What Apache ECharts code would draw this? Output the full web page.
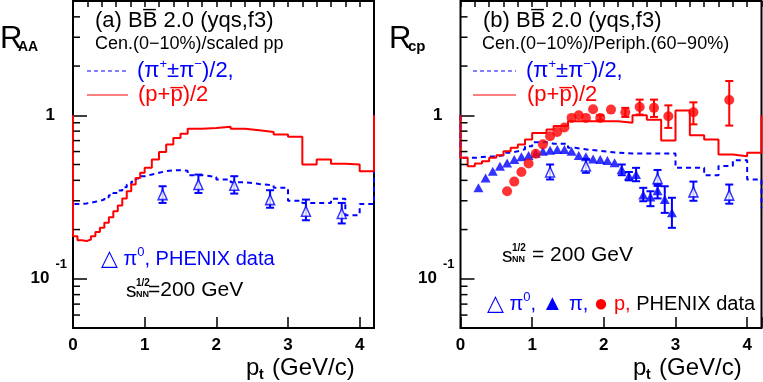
<!DOCTYPE html>
<html><head><meta charset="utf-8">
<script src="https://cdn.jsdelivr.net/npm/echarts@6/dist/echarts.min.js"></script>
<style>html,body{margin:0;padding:0;background:#fff}#c{width:763px;height:382px}</style>
</head><body><div id="c"></div>
<script>
// ---------------- data ----------------
const xTickLabels = [0, 1, 2, 3, 4];
const yMinorTicks = [0.06, 0.07, 0.08, 0.09, 0.2, 0.3, 0.4, 0.5, 0.6, 0.7, 0.8, 0.9, 2, 3, 4];

// panel (a): R_AA  histogram bin edges and contents
const aEdges = [0,0.0625,0.125,0.1875,0.25,0.3125,0.375,0.4375,0.5,0.5625,0.625,0.6875,0.75,0.8125,0.875,0.9375,1.0,
                1.1,1.2,1.3,1.4,1.5,1.6,1.8,2.0,2.2,2.4,2.6,2.8,3.0,3.2,3.4,3.6,3.8,4.0,4.2];
const aProton = [0.182,0.172,0.170,0.174,0.182,0.193,0.205,0.220,0.238,0.259,0.281,0.310,0.343,0.377,0.414,0.445,
                 0.477,0.536,0.597,0.662,0.727,0.77,
                 0.826,0.837,0.85,0.826,0.81,0.79,0.762,0.738,0.50,0.536,0.505,0.50,0.455];
const aPion   = [0.287,0.287,0.289,0.292,0.296,0.300,0.305,0.315,0.324,0.335,0.347,0.363,0.377,0.392,0.410,0.424,
                 0.434,0.445,0.455,0.461,0.461,0.458,
                 0.43,0.42,0.405,0.39,0.38,0.373,0.36,0.30,0.291,0.291,0.309,0.245,0.287];
const aOuter = { protonLeft: 1, protonRight: 1, pionLeft: 1, pionRight: 1 };
// PHENIX pi0 R_AA
const aPi0Pt  = [1.25, 1.75, 2.25, 2.75, 3.25, 3.75];
const aPi0Val = [0.327, 0.377, 0.373, 0.305, 0.259, 0.251];
const aPi0Lo  = [0.291, 0.335, 0.332, 0.272, 0.228, 0.218];
const aPi0Hi  = [0.368, 0.434, 0.424, 0.348, 0.305, 0.291];

// panel (b): R_cp
const bEdges = [0,0.1,0.2,0.3,0.4,0.5,0.6,0.7,0.8,0.9,1.0,1.1,1.2,1.3,1.4,1.5,1.6,
                1.8,2.0,2.2,2.4,2.6,2.8,3.0,3.2,3.4,3.6,3.8,4.0,4.2];
const bProton = [0.549,0.488,0.507,0.524,0.549,0.570,0.603,0.632,0.662,0.71,
                 0.78,0.78,0.818,0.86,0.86,0.92,
                 0.92,0.92,0.92,0.90,1.0,0.94,0.70,1.07,0.755,0.71,0.575,0.562,0.589];
const bPion   = [0.549,0.549,0.555,0.56,0.56,0.57,0.59,0.603,0.62,0.646,
                 0.684,0.684,0.67,0.67,0.67,0.632,
                 0.615,0.603,0.59,0.583,0.583,0.583,0.583,0.477,0.477,0.43,0.49,0.53,0.405];
const bOuter = { protonLeft: 1, protonRight: 1, pionLeft: 1, pionRight: 0.27 };
// PHENIX pi0 (open triangles)
const bPi0Pt  = [1.25, 1.75, 2.75, 3.25, 3.75];
const bPi0Val = [0.45, 0.49, 0.41, 0.34, 0.325];
const bPi0Lo  = [0.405, 0.445, 0.37, 0.30, 0.288];
const bPi0Hi  = [0.50, 0.54, 0.463, 0.393, 0.377];
// PHENIX charged pi (filled triangles)
const bPiPt  = [0.25,0.35,0.45,0.55,0.65,0.75,0.85,0.95,1.05,1.15,1.25,1.35,1.45,1.55,1.65,1.75,1.85,1.95,2.05,2.15,2.25,2.35,2.45,2.55,2.65,2.75,2.85,2.95];
const bPiVal = [0.36,0.414,0.455,0.488,0.51,0.536,0.557,0.567,0.586,0.603,0.611,0.617,0.617,0.603,0.567,0.557,0.541,0.536,0.529,0.512,0.466,0.425,0.434,0.325,0.316,0.345,0.305,0.253];
const bPiErrPt = [2.25, 2.35, 2.45, 2.55, 2.65, 2.75, 2.85, 2.95];
const bPiErrLo = [0.43, 0.40, 0.395, 0.298, 0.278, 0.31, 0.253, 0.205];
const bPiErrHi = [0.50, 0.45, 0.477, 0.36, 0.343, 0.38, 0.368, 0.313];
// PHENIX protons (filled circles)
const bPPt  = [0.65,0.75,0.85,0.95,1.05,1.15,1.25,1.35,1.45,1.55,1.65,1.75,1.85,1.95,2.1,2.3,2.5,2.7,2.9,3.25,3.75];
const bPVal = [0.343,0.393,0.45,0.507,0.582,0.664,0.744,0.79,0.841,0.964,1.0,0.964,1.09,0.964,1.083,1.043,1.125,1.11,0.986,1.043,1.24];
const bPErrPt = [1.95, 2.3, 2.5, 2.7, 2.9, 3.25, 3.75];
const bPErrLo = [0.93, 0.977, 1.01, 0.977, 0.837, 0.88, 0.865];
const bPErrHi = [1.0, 1.11, 1.247, 1.247, 1.15, 1.20, 1.62];

// ---------------- chart ----------------
const FONT = '"Liberation Sans", "DejaVu Sans", sans-serif';
const BLUE = '#0000ff', RED = '#ff0000';

function histPoints(edges, vals, left, right) {
  const pts = [[edges[0], left]];
  for (let i = 0; i < vals.length; i++) {
    pts.push([edges[i], vals[i]]);
    pts.push([edges[i + 1], vals[i]]);
  }
  pts.push([edges[edges.length - 1], right]);
  return pts;
}
function zip(a, b, c) { return a.map((v, i) => c ? [v, b[i], c[i]] : [v, b[i]]); }

function errSeries(g, data, color) {
  return {
    type: 'custom', xAxisIndex: 2 * g, yAxisIndex: g, z: 4, silent: true,
    data: data, encode: { x: 0, y: [1, 2] },
    renderItem: function (p, api) {
      const x = api.value(0), a = api.coord([x, api.value(1)]), b = api.coord([x, api.value(2)]);
      const w = 4, st = { stroke: color, lineWidth: 2 };
      return { type: 'group', children: [
        { type: 'line', shape: { x1: a[0], y1: a[1], x2: b[0], y2: b[1] }, style: st },
        { type: 'line', shape: { x1: a[0] - w, y1: a[1], x2: a[0] + w, y2: a[1] }, style: st },
        { type: 'line', shape: { x1: b[0] - w, y1: b[1], x2: b[0] + w, y2: b[1] }, style: st }
      ]};
    }
  };
}
function minorTickSeries(g) {
  return {
    type: 'custom', xAxisIndex: 2 * g, yAxisIndex: g, z: 6, silent: true,
    data: yMinorTicks.map(v => [0, v]),
    renderItem: function (p, api) {
      const c = api.coord([0, api.value(1)]);
      return { type: 'line', shape: { x1: c[0], y1: c[1], x2: c[0] + 7, y2: c[1] },
               style: { stroke: '#000', lineWidth: 1.5 } };
    }
  };
}
function histSeries(g, pts, color, dashed) {
  return {
    type: 'line', xAxisIndex: 2 * g, yAxisIndex: g, data: pts, showSymbol: false, symbol: 'none',
    clip: true, z: dashed ? 2 : 3, silent: true,
    lineStyle: { color: color, width: 2, type: dashed ? [5, 4] : 'solid' }
  };
}

function xAxes(g) {
  return [
    { type: 'value', gridIndex: g, min: 0, max: 4.2, interval: 1,
      axisLine: { show: false }, splitLine: { show: false },
      axisTick: { inside: true, length: 11, lineStyle: { color: '#000', width: 1.5 } },
      axisLabel: { margin: 9, color: '#000', fontSize: 17, fontWeight: 'bold', fontFamily: FONT,
                   formatter: v => xTickLabels.indexOf(v) >= 0 ? String(v) : '' } },
    { type: 'value', gridIndex: g, min: 0, max: 4.2, interval: 0.2,
      axisLine: { show: false }, splitLine: { show: false }, axisLabel: { show: false },
      axisTick: { inside: true, length: 6, lineStyle: { color: '#000', width: 1.5 } } }
  ];
}
function yAxis(g) {
  return {
    type: 'log', logBase: 10, gridIndex: g, min: 0.05, max: 5,
    axisLine: { show: false }, splitLine: { show: false }, minorTick: { show: false },
    axisTick: { inside: true, length: 14, lineStyle: { color: '#000', width: 1.5 } },
    axisLabel: {
      margin: 6, color: '#000', fontFamily: FONT,
      formatter: v => Math.abs(v - 1) < 1e-9 ? '{one|1}' : (Math.abs(v - 0.1) < 1e-9 ? '{ten|10}{sup|-1}' : ''),
      rich: {
        one: { fontSize: 17, fontWeight: 'bold', fontFamily: FONT, color: '#000', padding: [0, 12, 0, 0] },
        ten: { fontSize: 17, fontWeight: 'bold', fontFamily: FONT, color: '#000' },
        sup: { fontSize: 13, fontWeight: 'bold', fontFamily: FONT, color: '#000', padding: [0, 0, 28, 6] }
      }
    }
  };
}

function T(x, y, text, size, color, extra) {
  return { type: 'text', x: x, y: y, silent: true, z: 100,
    style: Object.assign({ text: text, fontSize: size, fontFamily: FONT, fill: color,
                           align: 'left', verticalAlign: 'middle' }, extra || {}) };
}
function L(x1, y1, x2, y2, color, dash) {
  return { type: 'line', silent: true, z: 100, shape: { x1, y1, x2, y2 },
           style: { stroke: color, lineWidth: 1, lineDash: dash || null } };
}
const supRich = (fill) => ({ sup: { fontSize: 13, fontFamily: FONT, fill: fill, padding: [0, 0, 14, 0] } });

const graphics = [
  // axis titles
  T(0, 39, 'R', 31, '#000'),
  T(18, 47, 'AA', 14, '#000', { fontWeight: 'bold' }),
  T(389, 39, 'R', 31, '#000'),
  T(408, 47, 'cp', 15, '#000', { fontWeight: 'bold' }),
  T(246, 368, 'p', 24, '#000'), T(259, 375, 't', 14, '#000', { fontWeight: 'bold' }),
  T(272, 368, '(GeV/c)', 24, '#000'),
  T(633, 368, 'p', 24, '#000'), T(646, 375, 't', 14, '#000', { fontWeight: 'bold' }),
  T(659, 368, '(GeV/c)', 24, '#000'),
  // panel (a) texts
  T(95, 21, '(a) BB\u0305 2.0 (yqs,f3)', 22, '#000'),
  T(95, 44, 'Cen.(0\u221210%)/scaled pp', 18, '#000'),
  L(87, 71, 128, 71, BLUE, [4, 3]),
  T(137, 71, '(\u03c0{sup|+}\u00b1\u03c0{sup|\u2212})/2,', 22, BLUE, { rich: supRich(BLUE) }),
  L(87, 95, 128, 95, RED),
  T(138, 95, '(p+p\u0305)/2', 22, RED),
  T(101, 259, '{tri|\u25b3} \u03c0{sup|0}, PHENIX data', 20, BLUE, {
    rich: Object.assign(supRich(BLUE), { tri: { fontSize: 22, fontFamily: FONT, fill: BLUE } }) }),
  T(126, 291, 's', 21, '#000'),
  T(136, 283, '1/2', 10, '#000', { fontWeight: 'bold' }),
  T(136, 295, 'NN', 9, '#000', { fontWeight: 'bold' }),
  T(148, 290, '=200 GeV', 21, '#000'),
  // panel (b) texts
  T(483, 21, '(b) BB\u0305 2.0 (yqs,f3)', 22, '#000'),
  T(482, 44, 'Cen.(0\u221210%)/Periph.(60\u221290%)', 18, '#000'),
  L(473, 71, 516, 71, BLUE, [4, 3]),
  T(526, 71, '(\u03c0{sup|+}\u00b1\u03c0{sup|\u2212})/2,', 22, BLUE, { rich: supRich(BLUE) }),
  L(473, 95, 516, 95, RED),
  T(527, 95, '(p+p\u0305)/2', 22, RED),
  T(502, 256, 's', 21, '#000'),
  T(512, 248, '1/2', 10, '#000', { fontWeight: 'bold' }),
  T(512, 260, 'NN', 9, '#000', { fontWeight: 'bold' }),
  T(532, 255, '= 200 GeV', 21, '#000'),
  T(487, 304, '{tri|\u25b3} \u03c0{sup|0}, {f|\u25b2} \u03c0, {c|\u25cf} {r|p,} {k|PHENIX data}', 20, BLUE, {
    rich: Object.assign(supRich(BLUE), {
      tri: { fontSize: 22, fontFamily: FONT, fill: BLUE },
      f: { fontSize: 22, fontFamily: FONT, fill: BLUE },
      c: { fontSize: 24, fontFamily: FONT, fill: RED },
      r: { fontSize: 20, fontFamily: FONT, fill: RED },
      k: { fontSize: 20, fontFamily: FONT, fill: '#000' }
    }) })
];

const chart = echarts.init(document.getElementById('c'), null, { renderer: 'canvas' });
chart.setOption({
  animation: false,
  backgroundColor: '#fff',
  textStyle: { fontFamily: FONT },
  grid: [
    { left: 73, top: 1, width: 301, height: 327, show: true, borderColor: '#000', borderWidth: 2, outerBoundsMode: 'none', containLabel: false },
    { left: 460.5, top: 1, width: 301, height: 327, show: true, borderColor: '#000', borderWidth: 2, outerBoundsMode: 'none', containLabel: false }
  ],
  xAxis: xAxes(0).concat(xAxes(1)),
  yAxis: [yAxis(0), yAxis(1)],
  series: [
    histSeries(0, histPoints(aEdges, aPion, aOuter.pionLeft, aOuter.pionRight), BLUE, true),
    histSeries(0, histPoints(aEdges, aProton, aOuter.protonLeft, aOuter.protonRight), RED, false),
    errSeries(0, zip(aPi0Pt, aPi0Lo, aPi0Hi), BLUE),
    { type: 'scatter', xAxisIndex: 0, yAxisIndex: 0, z: 5, silent: true, data: zip(aPi0Pt, aPi0Val),
      symbol: 'triangle', symbolSize: [9, 10], itemStyle: { color: '#fff', borderColor: BLUE, borderWidth: 1.5 } },
    minorTickSeries(0),

    histSeries(1, histPoints(bEdges, bPion, bOuter.pionLeft, bOuter.pionRight), BLUE, true),
    histSeries(1, histPoints(bEdges, bProton, bOuter.protonLeft, bOuter.protonRight), RED, false),
    errSeries(1, zip(bPi0Pt, bPi0Lo, bPi0Hi), BLUE),
    errSeries(1, zip(bPiErrPt, bPiErrLo, bPiErrHi), BLUE),
    errSeries(1, zip(bPErrPt, bPErrLo, bPErrHi), RED),
    { type: 'scatter', xAxisIndex: 2, yAxisIndex: 1, z: 5, silent: true, data: zip(bPi0Pt, bPi0Val),
      symbol: 'triangle', symbolSize: [9, 10], itemStyle: { color: '#fff', borderColor: BLUE, borderWidth: 1.5 } },
    { type: 'scatter', xAxisIndex: 2, yAxisIndex: 1, z: 5, silent: true, data: zip(bPiPt, bPiVal),
      symbol: 'triangle', symbolSize: [10, 9], itemStyle: { color: BLUE } },
    { type: 'scatter', xAxisIndex: 2, yAxisIndex: 1, z: 5, silent: true, data: zip(bPPt, bPVal),
      symbol: 'circle', symbolSize: 10, itemStyle: { color: RED } },
    minorTickSeries(1)
  ],
  graphic: graphics
});
</script></body></html>
